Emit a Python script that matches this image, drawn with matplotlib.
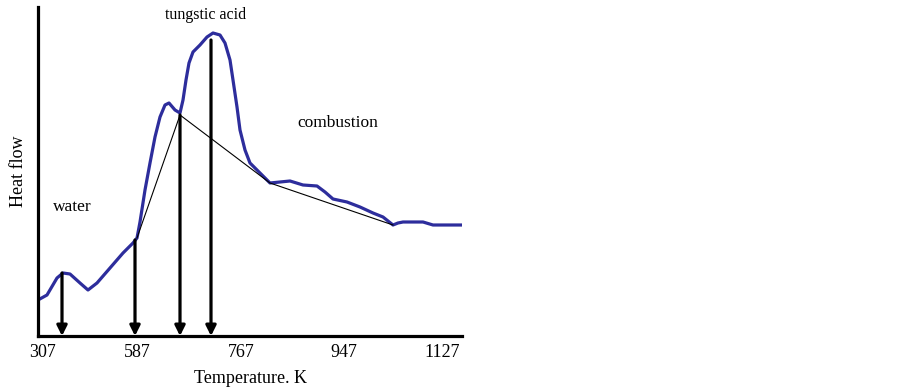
import matplotlib
matplotlib.use("Agg")
from matplotlib import pyplot as plt

# DSC curve (x: position along the axis, y: heat flow, arbitrary units)
curve_x = [0, 9, 19, 25, 32, 42, 50, 59, 72, 85, 95, 99, 102, 107, 112, 117, 122,
           127, 131, 137, 142, 145, 148, 151, 155, 162, 169, 175, 182, 187, 192, 195,
           199, 202, 207, 212, 222, 232, 242, 252, 265, 279, 287, 295, 309, 322, 335,
           345, 355, 360, 365, 385, 395, 424]
curve_y = [36, 41, 58, 63, 62, 53, 46, 53, 68, 83, 93, 98, 114, 146, 173, 199, 219,
           231, 233, 226, 223, 236, 256, 273, 284, 291, 299, 303, 301, 293, 276, 256,
           229, 206, 186, 173, 163, 153, 154, 155, 151, 150, 144, 137, 134, 129, 123,
           119, 111, 113, 114, 114, 111, 111]

# baseline construction (thin black lines)
base_x = [99, 142, 232, 355]
base_y = [98, 221, 153, 111]

# transition markers
arrow_x = [24, 97, 142, 173]
arrow_top = [63, 96, 221, 296]

tick_pos = [5, 99, 203, 306, 404]
tick_labels = ["307", "587", "767", "947", "1127"]

plt.rcParams['font.family'] = ['Liberation Serif', 'DejaVu Serif']

fig = plt.figure(figsize=(9.02, 3.9), dpi=100)
ax = fig.add_axes([38 / 902, 54 / 390, 424 / 902, 329 / 390])

ax.plot(curve_x, curve_y, color="#2d2d9c", lw=2.3,
        solid_capstyle="round", solid_joinstyle="round")
ax.plot(base_x, base_y, color="black", lw=0.8)

for xa, ya in zip(arrow_x, arrow_top):
    ax.annotate("", xy=(xa, 0), xytext=(xa, ya),
                arrowprops=dict(arrowstyle="-|>,head_length=0.6,head_width=0.3",
                                color="black", lw=2.3, shrinkA=0, shrinkB=0))

ax.set_xlim(0, 424)
ax.set_ylim(0, 329)
ax.set_xticks(tick_pos)
ax.set_xticklabels(tick_labels, fontsize=13)
ax.set_yticks([])
ax.tick_params(axis="x", length=0, pad=6)

for s in ["top", "right"]:
    ax.spines[s].set_visible(False)
for s in ["left", "bottom"]:
    ax.spines[s].set_linewidth(2.3)

ax.set_xlabel("Temperature. K", fontsize=13, labelpad=6)
ax.set_ylabel("Heat flow", fontsize=13, labelpad=8)

ax.text(168, 321, "tungstic acid", fontsize=11.5, ha="center", va="center")
ax.text(300, 213, "combustion", fontsize=12.5, ha="center", va="center")
ax.text(34, 129, "water", fontsize=12.5, ha="center", va="center")

plt.savefig("out.png", dpi=100)
